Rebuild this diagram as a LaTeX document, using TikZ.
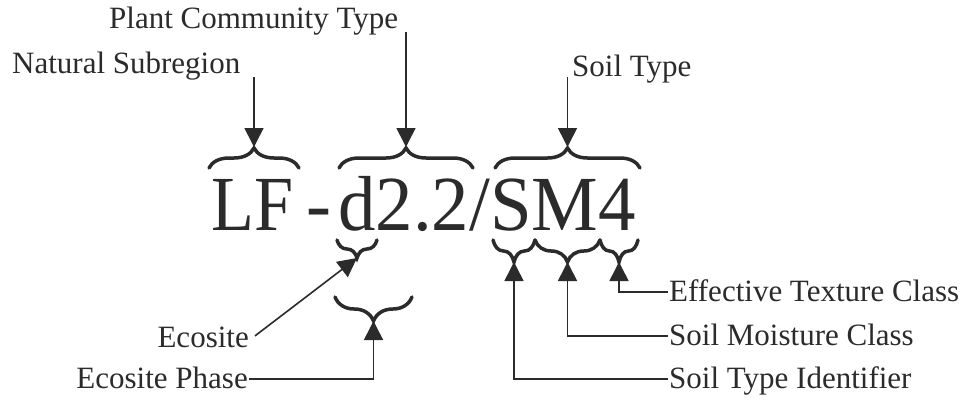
\documentclass[tikz,border=0pt]{standalone}
\usepackage{fontspec}
\setmainfont{Liberation Serif}
\newfontfamily\bigfont[FakeStretch=0.96]{Liberation Serif}
\newfontfamily\bigfontn[FakeStretch=0.9]{Liberation Serif}
\usetikzlibrary{decorations.pathreplacing,arrows.meta,calc}
\definecolor{ink}{HTML}{2B2B2B}
\begin{document}
\begin{tikzpicture}[x=1pt,y=-1pt,
  lbl/.style={font=\fontsize{31}{36}\selectfont, text=ink, inner sep=0pt},
  bigtxt/.style={text=ink, inner sep=0pt},
  arr/.style={draw=ink, line width=1.6pt, -{Triangle[length=19pt,width=19pt]}},
  brc/.style={draw=ink, line width=3.5pt, line cap=round, decorate, decoration={brace, amplitude=#1}},
]
\useasboundingbox[fill=white] (0,0) rectangle (969,400);

% labels
\node[lbl, anchor=base west] (pct) at (109,28) {Plant Community Type};
\node[lbl, anchor=base west] (ns) at (12,73) {Natural Subregion};
\node[lbl, anchor=base west] (st) at (572,76) {Soil Type};
\node[lbl, anchor=base east] (eco) at (249,347) {Ecosite};
\node[lbl, anchor=base east] (ecp) at (248,388) {Ecosite Phase};
\node[lbl, anchor=base west] (etc) at (669,301) {Effective Texture Class};
\node[lbl, anchor=base west] (smc) at (669,345) {Soil Moisture Class};
\node[lbl, anchor=base west] (sti) at (669,388) {Soil Type Identifier};

% code
\node[bigtxt, anchor=base west, font=\bigfontn\fontsize{78}{80}\selectfont] (lf) at (211,230) {LF};
\node[bigtxt, anchor=base, font=\bigfont\fontsize{78}{80}\selectfont] (dash) at (319,230) {-};
\node[bigtxt, anchor=base west, font=\bigfont\fontsize{78}{80}\selectfont] (code) at (338,230) {d2.2/SM4};

% top braces
\draw[brc=20pt] (209,168) -- (299,168);
\draw[brc=20pt] (339,168) -- (473,168);
\draw[brc=20pt] (495,168) -- (640,168);
\coordinate (t1) at (254,147);
\coordinate (t2) at (406,147);
\coordinate (t3) at (567.5,147);

% bottom braces
\draw[brc=18pt] (377,240) -- (337,240);
\draw[brc=24pt] (412,297) -- (335,297);
\draw[brc=22pt] (535,240) -- (493,240);
\draw[brc=22pt] (600,240) -- (535,240);
\draw[brc=22pt] (638,240) -- (600,240);
\coordinate (td) at (357,258);
\coordinate (tp) at (373.5,321);
\coordinate (r1) at (514,262);
\coordinate (r2) at (567.5,262);
\coordinate (r3) at (619,262);

% top arrows
\coordinate (ns0) at (254,77);
\coordinate (pct0) at (406,32);
\coordinate (st0) at (567.5,77);
\draw[arr] (ns0) -- (t1);
\draw[arr] (pct0) -- (t2);
\draw[arr] (st0) -- (t3);

% bottom arrows
\draw[arr] ($(eco.east)+(6,-1)$) -- (td);
\draw[arr] ($(ecp.base east)+(1,-9)$) -| (tp);
\draw[arr] ($(sti.base west)+(-1,-9)$) -| (r1);
\draw[arr] ($(smc.base west)+(-1,-9)$) -| (r2);
\draw[arr] ($(etc.base west)+(-1,-9)$) -| (r3);
\end{tikzpicture}
\end{document}
